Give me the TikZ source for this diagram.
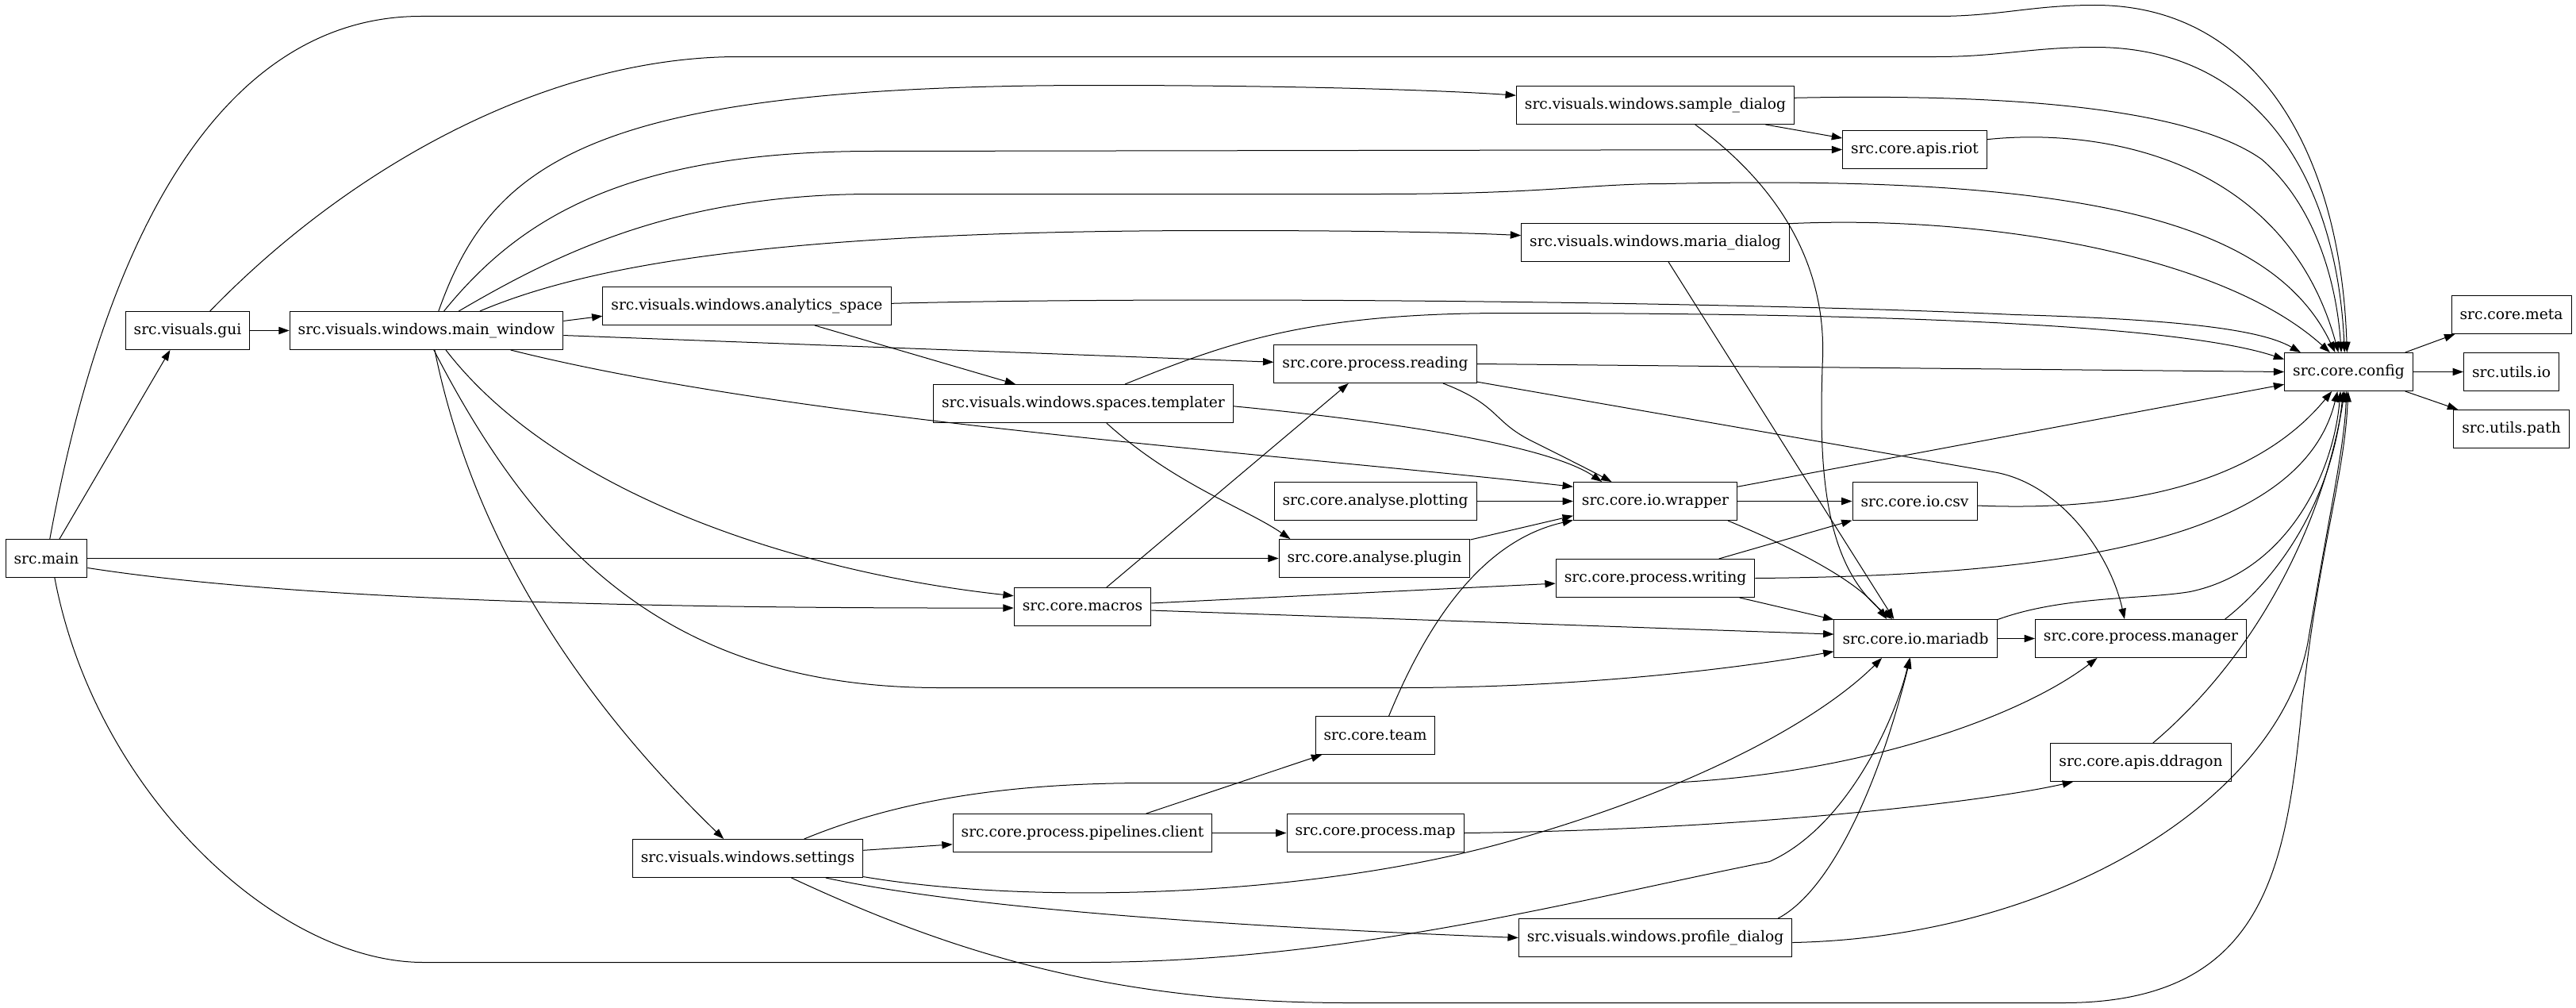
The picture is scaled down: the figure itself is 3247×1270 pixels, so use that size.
\documentclass[tikz,border=0pt]{standalone}
\usepackage{fontspec}
\setmainfont{DejaVu Serif}
\usetikzlibrary{arrows.meta}

\begin{document}
\begin{tikzpicture}[x=0.75pt, y=-0.75pt,
    modBox/.style={draw, line width=0.75pt, font=\fontsize{14}{16}\selectfont,
        inner xsep=7.9pt, inner ysep=0pt, minimum height=36pt, minimum width=54pt},
    dep/.style={line width=0.75pt, -{Triangle[length=10pt,width=7pt]}}]
    \useasboundingbox (-0.5,-0.5) rectangle (3246.5,1269.5);

    % modules
    \node[modBox] (main) at (58,703) {src.main};
    \node[modBox] (gui) at (236,416) {src.visuals.gui};
    \node[modBox] (mainwin) at (537,416) {src.visuals.windows.main\_window};
    \node[modBox] (analytics) at (941,385) {src.visuals.windows.analytics\_space};
    \node[modBox] (settings) at (942,1081) {src.visuals.windows.settings};
    \node[modBox] (templater) at (1365,508) {src.visuals.windows.spaces.templater};
    \node[modBox] (macros) at (1364,764) {src.core.macros};
    \node[modBox] (pipelines) at (1364,1049) {src.core.process.pipelines.client};
    \node[modBox] (reading) at (1733,458) {src.core.process.reading};
    \node[modBox] (plotting) at (1733,631) {src.core.analyse.plotting};
    \node[modBox] (plugin) at (1732,703) {src.core.analyse.plugin};
    \node[modBox] (team) at (1733,926) {src.core.team};
    \node[modBox] (procmap) at (1733,1049) {src.core.process.map};
    \node[modBox] (sample) at (2086,132) {src.visuals.windows.sample\_dialog};
    \node[modBox] (maria) at (2086,305) {src.visuals.windows.maria\_dialog};
    \node[modBox] (wrapper) at (2086,631) {src.core.io.wrapper};
    \node[modBox] (writing) at (2086,728) {src.core.process.writing};
    \node[modBox] (profile) at (2086,1181) {src.visuals.windows.profile\_dialog};
    \node[modBox] (riot) at (2413,188) {src.core.apis.riot};
    \node[modBox] (csv) at (2413,631) {src.core.io.csv};
    \node[modBox] (mariadb) at (2414,804) {src.core.io.mariadb};
    \node[modBox] (manager) at (2698,804) {src.core.process.manager};
    \node[modBox] (ddragon) at (2698,960) {src.core.apis.ddragon};
    \node[modBox] (config) at (2960,468) {src.core.config};
    \node[modBox] (meta) at (3165,396) {src.core.meta};
    \node[modBox] (utilsio) at (3165,468) {src.utils.io};
    \node[modBox] (utilspath) at (3165,540) {src.utils.path};

    % src.main
    \draw[dep] (main.56) -- (gui.228);
    \draw[dep] (main.80) .. controls (150,200) and (330,20) .. (530,20) -- (2440,20)
        .. controls (2520,20) and (2560,6) .. (2640,6) .. controls (2850,6) and (2950,200) .. (config.95);
    \draw[dep] (main.east) -- (plugin.west);
    \draw[dep] (main.-13) .. controls (400,760) and (900,766) .. (macros.181);
    \draw[dep] (main.293) .. controls (120,1000) and (350,1212) .. (533,1212) -- (1367,1212)
        .. controls (1700,1212) and (2000,1130) .. (2230,1085) .. controls (2330,1040) and (2390,900) .. (mariadb.253);

    % src.visuals.gui
    \draw[dep] (gui.east) -- (mainwin.west);
    \draw[dep] (gui.41) .. controls (450,200) and (700,71) .. (930,71) -- (2440,71)
        .. controls (2520,71) and (2560,59) .. (2640,59) .. controls (2850,59) and (2945,230) .. (config.102);

    % main window
    \draw[dep] (mainwin.4) -- (analytics.184);
    \draw[dep] (mainwin.58) .. controls (620,200) and (750,107) .. (1383,107)
        .. controls (1600,107) and (1800,112) .. (sample.176);
    \draw[dep] (mainwin.48) .. controls (650,280) and (780,190) .. (1100,190) -- (riot.west);
    \draw[dep] (mainwin.31) .. controls (700,320) and (850,244) .. (1100,244) -- (1735,244)
        .. controls (1950,244) and (2000,231) .. (2100,231) .. controls (2600,220) and (2860,270) .. (config.125);
    \draw[dep] (mainwin.20) .. controls (750,330) and (1000,290) .. (1536,290)
        .. controls (1750,290) and (1850,293) .. (maria.177);
    \draw[dep] (mainwin.-2) -- (reading.179);
    \draw[dep] (mainwin.-13) .. controls (1000,530) and (1600,570) .. (wrapper.170);
    \draw[dep] (mainwin.-67) .. controls (600,700) and (750,900) .. (settings.141);
    \draw[dep] (mainwin.-69) .. controls (680,700) and (850,866) .. (1184,866) -- (1765,866)
        .. controls (2000,866) and (2200,840) .. (mariadb.189);
    \draw[dep] (mainwin.-45) .. controls (700,620) and (1000,720) .. (macros.171);

    % analytics space and templater
    \draw[dep] (analytics.1) .. controls (1500,372) and (2200,380) .. (2539,396)
        .. controls (2750,402) and (2850,415) .. (config.158);
    \draw[dep] (analytics.-16) -- (templater.164);
    \draw[dep] (templater.25) .. controls (1550,430) and (1650,394) .. (1900,394)
        .. controls (2400,394) and (2750,410) .. (config.169);
    \draw[dep] (templater.-1) .. controls (1750,530) and (1950,560) .. (wrapper.160);
    \draw[dep] (templater.-40) .. controls (1480,610) and (1570,640) .. (plugin.167);

    % reading
    \draw[dep] (reading.east) -- (config.west);
    \draw[dep] (reading.-16) .. controls (1890,510) and (1880,530) .. (1930,555)
        .. controls (1970,575) and (2000,590) .. (wrapper.156);
    \draw[dep] (reading.-10) -- (2517,595) .. controls (2600,612) and (2660,700) .. (manager.130);

    % dialogs
    \draw[dep] (sample.3) .. controls (2500,118) and (2750,130) .. (2850,200)
        .. controls (2920,260) and (2945,360) .. (config.111);
    \draw[dep] (sample.-10) -- (riot.171);
    \draw[dep] (sample.-26) .. controls (2250,240) and (2300,340) .. (2297,449)
        .. controls (2292,580) and (2295,710) .. (mariadb.140);
    \draw[dep] (maria.8) .. controls (2500,270) and (2800,320) .. (config.134);
    \draw[dep] (maria.-56) -- (mariadb.138);
    \draw[dep] (riot.8) .. controls (2650,160) and (2880,200) .. (config.118);

    % io
    \draw[dep] (plotting.east) -- (wrapper.west);
    \draw[dep] (plugin.11) -- (wrapper.190);
    \draw[dep] (team.55) .. controls (1800,780) and (1870,680) .. (wrapper.193);
    \draw[dep] (wrapper.10) -- (config.191);
    \draw[dep] (wrapper.east) -- (csv.west);
    \draw[dep] (wrapper.-15) .. controls (2260,690) and (2340,730) .. (mariadb.146);

    % macros and writing
    \draw[dep] (macros.39) -- (reading.216);
    \draw[dep] (macros.3) -- (writing.183);
    \draw[dep] (macros.-3) -- (mariadb.177);
    \draw[dep] (writing.17) -- (csv.197);
    \draw[dep] (writing.0) .. controls (2600,725) and (2900,680) .. (config.240);
    \draw[dep] (writing.-13) -- (mariadb.167);

    % into config from below
    \draw[dep] (csv.-4) .. controls (2700,645) and (2850,600) .. (config.229);
    \draw[dep] (mariadb.east) -- (manager.west);
    \draw[dep] (mariadb.13) .. controls (2600,750) and (2700,755) .. (2760,745)
        .. controls (2880,720) and (2940,600) .. (config.247);
    \draw[dep] (manager.13) .. controls (2880,720) and (2940,620) .. (config.254);
    \draw[dep] (ddragon.58) .. controls (2850,820) and (2930,650) .. (config.258);
    \draw[dep] (profile.-2) .. controls (2600,1180) and (2880,1000) .. (2910,800)
        .. controls (2935,650) and (2955,560) .. (config.263);
    \draw[dep] (profile.9) .. controls (2310,1120) and (2370,980) .. (mariadb.255);

    % settings
    \draw[dep] (settings.-24) .. controls (1200,1200) and (1400,1263) .. (1700,1263) -- (2600,1263)
        .. controls (2850,1263) and (2880,1100) .. (2900,900) .. controls (2920,700) and (2955,600) .. (config.268);
    \draw[dep] (settings.19) .. controls (1150,1000) and (1300,986) .. (1450,986) -- (2100,986)
        .. controls (2350,975) and (2550,900) .. (manager.204);
    \draw[dep] (settings.4) -- (pipelines.185);
    \draw[dep] (settings.-9) .. controls (1300,1140) and (1650,1130) .. (1900,1060)
        .. controls (2150,990) and (2300,900) .. (mariadb.210);
    \draw[dep] (settings.-14) .. controls (1200,1140) and (1500,1165) .. (profile.180);
    \draw[dep] (pipelines.17) -- (team.200);
    \draw[dep] (pipelines.east) -- (procmap.west);
    \draw[dep] (procmap.east) .. controls (2200,1045) and (2500,1010) .. (ddragon.196);

    % config
    \draw[dep] (config.19) -- (meta.199);
    \draw[dep] (config.east) -- (utilsio.west);
    \draw[dep] (config.-19) -- (utilspath.160);
\end{tikzpicture}
\end{document}
